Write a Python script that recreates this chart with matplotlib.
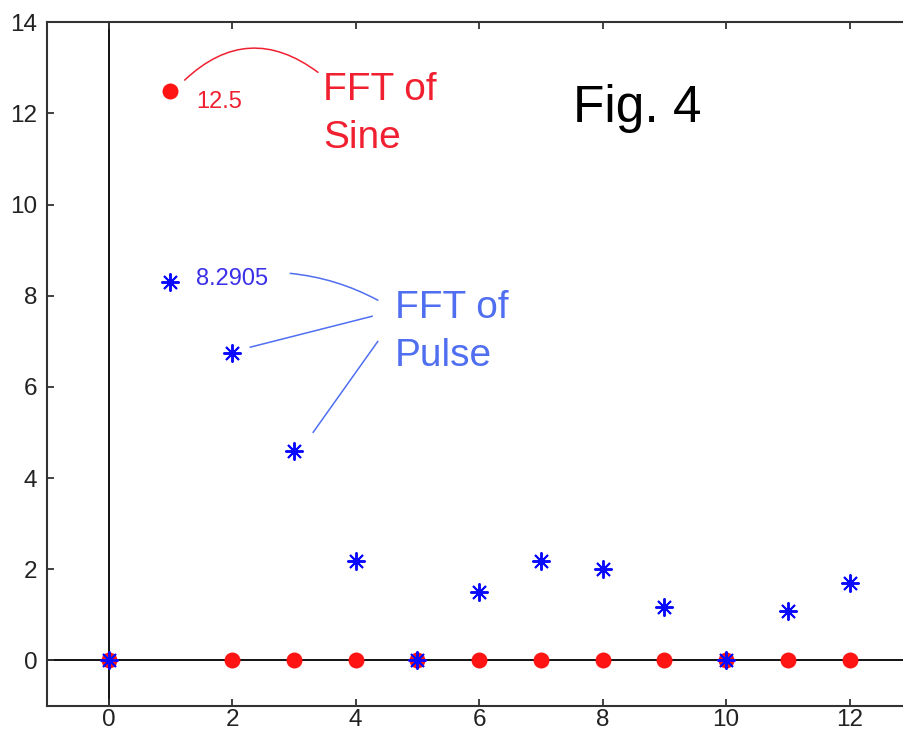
import matplotlib
matplotlib.use("Agg")
import matplotlib.pyplot as plt

# data
k = list(range(13))
fft_sine = [0, 12.5, 0, 0, 0, 0, 0, 0, 0, 0, 0, 0, 0]
fft_pulse = [0, 8.29, 6.74, 4.59, 2.17, 0, 1.51, 2.17, 2.0, 1.16, 0, 1.08, 1.69]

RED = "#ff1414"
RED_TXT = "#f02030"
BLUE = "#0a0aff"
BLUE_TXT = "#4f6ff0"
AX = "#333333"

plt.rcParams.update({
    "font.family": ["Liberation Sans", "DejaVu Sans"],
    "xtick.direction": "in",
    "ytick.direction": "in",
    "xtick.top": True,
    "ytick.right": True,
})

fig = plt.figure(figsize=(9.04, 7.40), dpi=100)
ax = fig.add_axes([0.052, 0.046, 0.956, 0.924])

ax.axhline(0, color="black", lw=1.3, zorder=1)
ax.axvline(0, color="black", lw=1.3, zorder=1)

ax.plot(k, fft_sine, "o", color=RED, markersize=11.5, markeredgewidth=0, zorder=3)
ax.plot(k, fft_pulse, linestyle="none", marker=(8, 2, 0), color=BLUE,
        markersize=13, markeredgewidth=1.4, zorder=4)

ax.set_xlim(-1, 13)
ax.set_ylim(-1, 14)
ax.set_xticks(range(0, 13, 2))
ax.set_yticks(range(0, 15, 2))
ax.tick_params(labelsize=17.5, length=5, width=1.3, color=AX, labelcolor="#222222")
ax.tick_params(axis="x", pad=2)
ax.tick_params(axis="y", pad=7)
for s in ax.spines.values():
    s.set_color(AX)
    s.set_linewidth(1.5)

# sine annotation
ax.annotate("", xy=(3.39, 12.90), xytext=(1.23, 12.73),
            arrowprops=dict(arrowstyle="-", color=RED_TXT, lw=1.1,
                            connectionstyle="arc3,rad=-0.42", shrinkA=0, shrinkB=0))
ax.text(1.41, 12.11, f"{fft_sine[1]:g}", color=RED_TXT, fontsize=17, va="baseline")
ax.text(3.47, 12.29, "FFT of", color=RED_TXT, fontsize=28, va="baseline")
ax.text(3.47, 11.24, "Sine", color=RED_TXT, fontsize=28, va="baseline")

ax.text(7.52, 11.81, "Fig. 4", color="black", fontsize=37, va="baseline")

# pulse annotation
ax.annotate("", xy=(4.36, 7.90), xytext=(2.94, 8.49),
            arrowprops=dict(arrowstyle="-", color=BLUE_TXT, lw=1.1,
                            connectionstyle="arc3,rad=-0.1", shrinkA=0, shrinkB=0))
ax.annotate("", xy=(4.27, 7.55), xytext=(2.29, 6.87),
            arrowprops=dict(arrowstyle="-", color=BLUE_TXT, lw=1.1, shrinkA=0, shrinkB=0))
ax.annotate("", xy=(4.36, 7.00), xytext=(3.31, 5.00),
            arrowprops=dict(arrowstyle="-", color=BLUE_TXT, lw=1.1, shrinkA=0, shrinkB=0))
ax.text(1.41, 8.23, "8.2905", color="#3a30e8", fontsize=17, va="baseline")
ax.text(4.64, 7.50, "FFT of", color=BLUE_TXT, fontsize=28, va="baseline")
ax.text(4.64, 6.45, "Pulse", color=BLUE_TXT, fontsize=28, va="baseline")

fig.savefig("out.png", dpi=100, facecolor="white")
